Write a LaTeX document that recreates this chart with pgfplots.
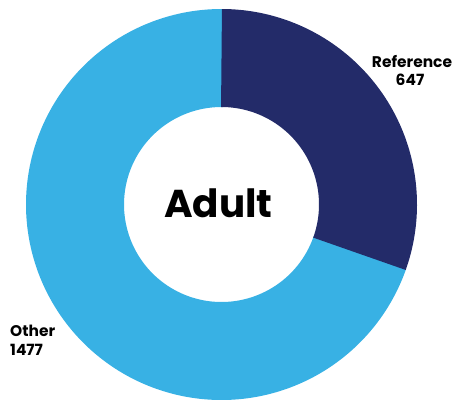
\documentclass[border=0pt]{standalone}
\usepackage{pgfplots}
\pgfplotsset{compat=1.18}
\usepackage{fontspec}
\setmainfont{Poppins}[BoldFont={* Bold}]

\definecolor{refnavy}{HTML}{232B69}
\definecolor{otherblue}{HTML}{38B1E4}

% segment values
\def\valRef{647}
\def\valOther{1477}

\begin{document}
\begin{tikzpicture}
\pgfmathsetmacro{\total}{\valRef+\valOther}
\pgfmathsetmacro{\angRef}{\valRef/\total*360}
\pgfmathsetmacro{\angOther}{\valOther/\total*360}
\pgfmathsetmacro{\aEnd}{90-\angRef}
\pgfmathsetmacro{\aOtherEnd}{\aEnd-\angOther}
% the lower segment runs a little under its neighbour so no seam shows
\pgfmathsetmacro{\oStart}{\aEnd+0.6}
\pgfmathsetmacro{\oEnd}{\aOtherEnd-0.6}
\begin{axis}[
  hide axis,
  x=1bp, y=1bp,
  xmin=0, xmax=453, ymin=0, ymax=400,
  clip=false,
]
% fixed canvas
\path[draw=none] (rel axis cs:0,0) rectangle (rel axis cs:1,1);
% ring drawn as thick arcs: mid radius 146.5, thickness 98
\addplot[draw=otherblue, line width=98bp, domain=\oStart:\oEnd, samples=240, line cap=butt]
  ({221.5+146.5*cos(x)}, {195.5+146.5*sin(x)});
\addplot[draw=refnavy, line width=98bp, domain=90:\aEnd, samples=120, line cap=butt]
  ({221.5+146.5*cos(x)}, {195.5+146.5*sin(x)});
\node[font=\bfseries\fontsize{39}{39}\selectfont, anchor=base, inner sep=0pt] at (axis cs:218.5,183) {Adult};
\tikzset{lbl/.style={font=\bfseries\fontsize{15.5}{15.5}\selectfont, inner sep=0pt}}
\node[lbl, anchor=base] at (axis cs:412,333) {Reference};
\node[lbl, anchor=base] at (axis cs:410,315) {647};
\node[lbl, anchor=base west] at (axis cs:10,64) {Other};
\node[lbl, anchor=base west] at (axis cs:10,45) {1477};
\end{axis}
\end{tikzpicture}
\end{document}
